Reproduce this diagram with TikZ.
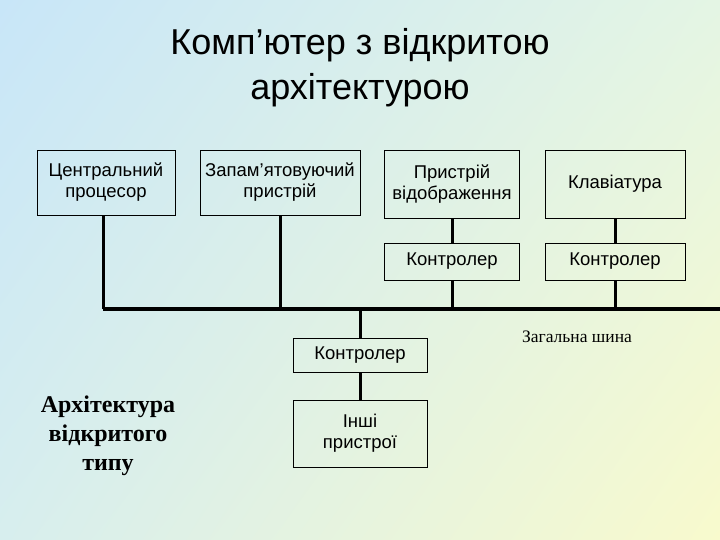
\documentclass[tikz,border=0pt]{standalone}
\usepackage{fontspec}
\usetikzlibrary{shadings}
\setmainfont{Liberation Sans}
\newfontfamily\serifb{Liberation Serif}
\definecolor{bgul}{RGB}{200,230,248}
\definecolor{bgur}{RGB}{228,245,228}
\definecolor{bgll}{RGB}{215,238,238}
\definecolor{bglr}{RGB}{248,250,205}
\begin{document}
\begin{tikzpicture}[x=1pt,y=-1pt,
  blk/.style={draw,line width=0.8pt,font=\fontsize{18.5}{21}\selectfont,align=center,inner sep=0pt},
  wire/.style={line width=3pt},
  bus/.style={line width=4pt}]
\shade[upper left=bgul,upper right=bgur,lower left=bgll,lower right=bglr] (0,0) rectangle (720,540);
\useasboundingbox (0,0) rectangle (720,540);
\node[font=\fontsize{36}{45}\selectfont,align=center] (title) at (360,68) {Комп’ютер з відкритою\\архітектурою};
\node[blk,minimum width=138,minimum height=65] (cpu) at (106,182.5) {Центральний\\процесор};
\node[blk,minimum width=160,minimum height=65] (mem) at (280,182.5) {Запам’ятовуючий\\пристрій};
\node[blk,minimum width=135,minimum height=68] (disp) at (452,184) {Пристрій\\відображення};
\node[blk,minimum width=140,minimum height=68] (kbd) at (615,184) {Клавіатура};
\node[blk,minimum width=135,minimum height=37] (c1) at (452,261.5) {Контролер};
\node[blk,minimum width=140,minimum height=37] (c2) at (615,261.5) {Контролер};
\node[blk,minimum width=134,minimum height=34] (c3) at (360,355) {Контролер};
\node[blk,minimum width=134,minimum height=67] (oth) at (360,433.5) {Інші\\пристрої};
\coordinate (bl) at (103,309);
\coordinate (br) at (720,309);
\draw[bus] (bl) -- (br);
\draw[wire] (cpu.south -| bl) -- (bl);
\draw[wire] (mem.south) -- (mem.south |- bl);
\draw[wire] (disp.south) -- (c1.north);
\draw[wire] (kbd.south) -- (c2.north);
\draw[wire] (c1.south) -- (c1.south |- bl);
\draw[wire] (c2.south) -- (c2.south |- bl);
\draw[wire] (c3.north |- bl) -- (c3.north);
\draw[wire] (c3.south) -- (oth.north);
\node[font=\serifb\fontsize{17.5}{20}\selectfont] (bustxt) at (577,337) {Загальна шина};
\node[font=\serifb\bfseries\fontsize{24}{29}\selectfont,align=center] (arch) at (108,436) {Архітектура\\відкритого\\типу};
\end{tikzpicture}
\end{document}
